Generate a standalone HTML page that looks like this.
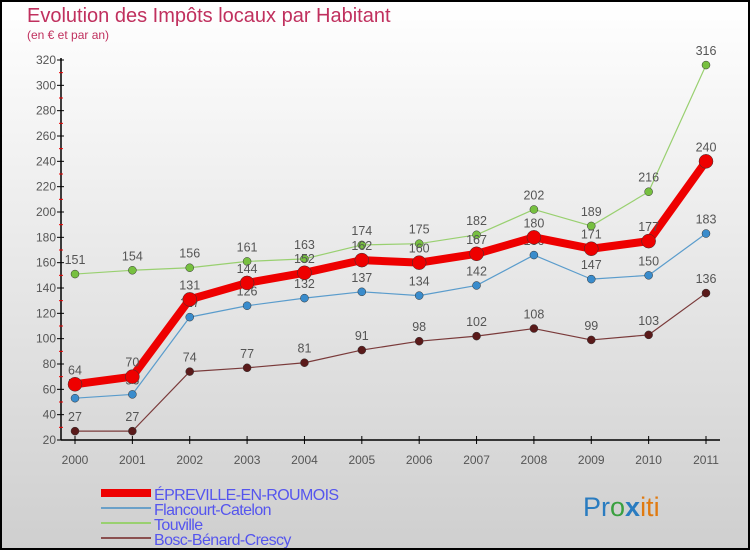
<!DOCTYPE html>
<html><head><meta charset="utf-8"><style>
body{margin:0}
#c{width:750px;height:550px;position:relative;overflow:hidden;box-sizing:border-box;border:2px solid #000;background:linear-gradient(#fff,#cfcfcf);font-family:"Liberation Sans",sans-serif}
</style></head><body>
<div id="c">
<svg id="s" width="750" height="550" style="position:absolute;left:-2px;top:-2px">
<text x="27" y="22" font-size="20" fill="#c0305e">Evolution des Impôts locaux par Habitant</text>
<text x="27" y="39" font-size="12" fill="#c0305e">(en € et par an)</text>
<g id="axes"></g><g id="series"></g>
<g font-size="16" fill="#5555ee" letter-spacing="-0.6">
<rect x="101" y="489" width="50" height="8" fill="#e00"/>
<text x="154" y="500">ÉPREVILLE-EN-ROUMOIS</text>
<rect x="101" y="507" width="50" height="2" fill="#6aa0c8"/>
<text x="154" y="515">Flancourt-Catelon</text>
<rect x="101" y="522" width="50" height="2" fill="#99d070"/>
<text x="154" y="530">Touville</text>
<rect x="101" y="537" width="50" height="2" fill="#8a5050"/>
<text x="154" y="545">Bosc-Bénard-Crescy</text>
</g>
<text x="583" y="516" font-size="27"><tspan fill="#2a7cc0">Pr</tspan><tspan fill="#3aa040">o</tspan><tspan fill="#2a7cc0" font-weight="bold">x</tspan><tspan fill="#e07a10">iti</tspan></text>
</svg>
</div>
<script>
const years=["2000","2001","2002","2003","2004","2005","2006","2007","2008","2009","2010","2011"];
const epreville=[64,70,131,144,152,162,160,167,180,171,177,240];
const flancourt=[53,56,117,126,132,137,134,142,166,147,150,183];
const touville=[151,154,156,161,163,174,175,182,202,189,216,316];
const bosc=[27,27,74,77,81,91,98,102,108,99,103,136];
const yTicks=[20,40,60,80,100,120,140,160,180,200,220,240,260,280,300,320];
const NS="http://www.w3.org/2000/svg";
const X=i=>75+i*(706-75)/11;
const Y=v=>440-(v-20)*380/300;
function mk(tag,attrs,parent){const e=document.createElementNS(NS,tag);for(const k in attrs)e.setAttribute(k,attrs[k]);parent.appendChild(e);return e;}
const ax=document.getElementById('axes'),sg=document.getElementById('series');
let l=mk('line',{x1:61,y1:58,x2:61,y2:440,stroke:'#000','stroke-width':1.5},ax);


l=mk('line',{x1:61,y1:440,x2:720,y2:440,stroke:'#000','stroke-width':1.5},ax);


yTicks.forEach((v,i)=>{
 mk('line',{x1:57,y1:Y(v),x2:64,y2:Y(v),stroke:'#000'},ax);
 if(i<yTicks.length-1)mk('line',{x1:59,y1:Y(v+10),x2:63,y2:Y(v+10),stroke:'#e00'},ax);
 const t=mk('text',{x:56,y:Y(v)+4,'font-size':12,fill:'#555','text-anchor':'end'},ax);t.textContent=v;
 
 
});
years.forEach((y,i)=>{
 mk('line',{x1:X(i),y1:436,x2:X(i),y2:444,stroke:'#000'},ax);
 const t=mk('text',{x:X(i),y:464,'font-size':12,fill:'#555','text-anchor':'middle'},ax);t.textContent=y;
 
 
});
function series(data,color,w,r,dot,name){
 const g=mk('g',{},sg);
 
 
 const p=mk('polyline',{points:data.map((v,i)=>X(i)+','+Y(v)).join(' '),fill:'none',stroke:color,'stroke-width':w,'stroke-linejoin':'round'},g);
 
 
 data.forEach((v,i)=>{
  const c=mk('circle',{cx:X(i),cy:Y(v),r:r,fill:dot,stroke:'#333','stroke-width':0.5},g);
  
  
  const t=mk('text',{x:X(i),y:Y(v)-10,'font-size':12.5,fill:'#555','text-anchor':'middle'},g);t.textContent=v;
  
  
 });
}
series(bosc,'#7a3a3a',1.2,4,'#5a1a1a','bosc');
series(touville,'#99d070',1.2,4,'#77c040','touville');
series(flancourt,'#5a9ccc',1.2,4,'#3a8ccc','flancourt');
series(epreville,'#ee0000',8,7,'#ee0000','epreville');
</script>
</body></html>
